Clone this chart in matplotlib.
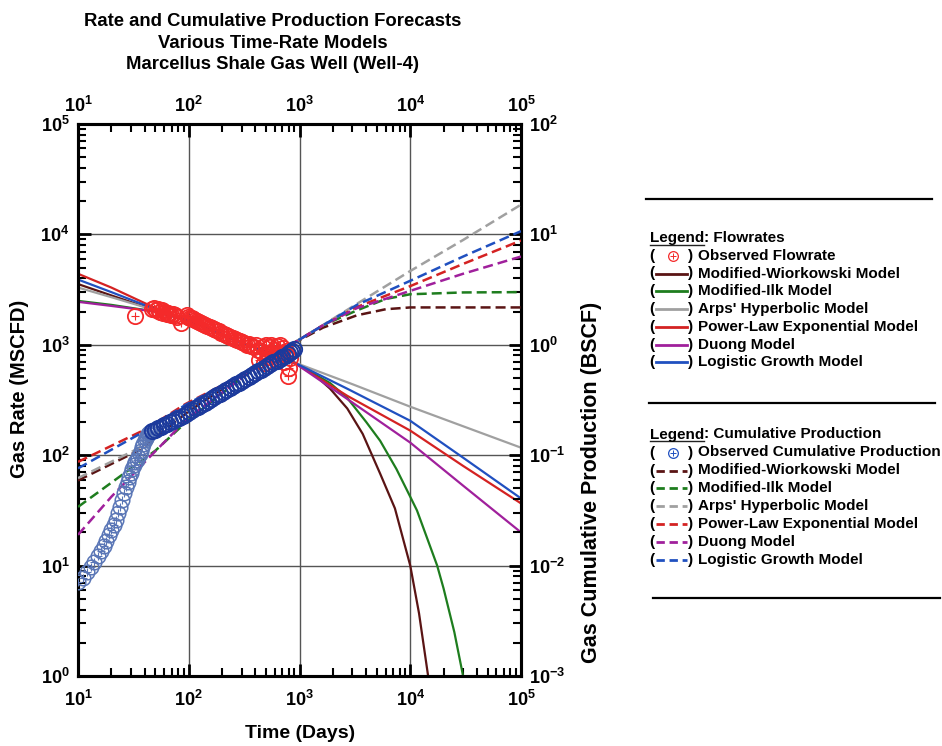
import numpy as np
import matplotlib
matplotlib.use("Agg")
import matplotlib.pyplot as plt
from matplotlib.lines import Line2D
from matplotlib.ticker import LogLocator, NullFormatter, FuncFormatter

plt.rcParams['font.family'] = ['Liberation Sans', 'DejaVu Sans']
plt.rcParams['font.weight'] = 'bold'
plt.rcParams['mathtext.fontset'] = 'custom'
plt.rcParams['mathtext.rm'] = 'Liberation Sans:bold'
plt.rcParams['mathtext.it'] = 'Liberation Sans:bold'
plt.rcParams['mathtext.bf'] = 'Liberation Sans:bold'

# observed gas rate, MSCFD
rate_t = [33, 47, 49, 51, 53, 55, 57, 59, 61, 63, 65, 67, 69, 72, 75, 78, 85,
          96, 99, 102, 106, 110, 114, 118, 123, 128, 134, 140, 147, 154, 162,
          170, 178, 187, 196, 206, 216, 227, 238, 250, 262, 275, 289, 303, 318,
          334, 350, 368, 386, 405, 420, 435, 450, 465, 480, 495, 510, 525, 540,
          555, 570, 590, 610, 630, 650, 670, 690, 710, 730, 750, 770, 780, 800, 820]
rate_q = [1820, 2100, 2150, 2050, 2100, 2000, 2050, 1950, 2000, 1900, 1950, 1900,
          1850, 1900, 1850, 1800, 1580,
          1850, 1800, 1760, 1750, 1700, 1680, 1650, 1600, 1580, 1550, 1500, 1480,
          1450, 1420, 1380, 1350, 1320, 1280, 1260, 1230, 1200, 1180, 1150, 1120,
          1100, 1080, 1050, 1040, 1000, 1020, 980, 960, 1000, 900, 730, 880, 950,
          690, 1000, 850, 780, 950, 1000, 820, 900, 750, 980, 850, 1000, 800, 930,
          700, 880, 800, 525, 620, 760]

# observed cumulative production, BSCF
cum_t = [10, 11, 12, 13, 14, 15, 16, 17, 18, 19, 20, 21, 22, 23, 24, 25, 26, 27,
         28, 29, 30, 31, 32, 33, 34, 35, 36, 37, 38, 39, 40, 41, 42, 43, 44, 45,
         47, 50, 53, 56, 60, 64, 68, 72, 77, 82, 88, 94, 100, 107, 114, 122, 130,
         139, 148, 158, 169, 180, 192, 205, 219, 234, 250, 267, 285, 304, 325, 347,
         370, 395, 422, 450, 480, 512, 546, 582, 620, 660, 700, 740, 780, 820, 860, 900]
cum_g = [0.0071, 0.0078, 0.0087, 0.0097, 0.0108, 0.0121, 0.0135, 0.0151, 0.0168,
         0.0188, 0.021, 0.0232, 0.026, 0.030, 0.034, 0.039, 0.045, 0.051, 0.057,
         0.063, 0.069, 0.075, 0.081, 0.086, 0.091, 0.096, 0.102, 0.109, 0.118,
         0.127, 0.136, 0.144, 0.150, 0.155, 0.159, 0.162,
         0.166, 0.170, 0.175, 0.180, 0.186, 0.192, 0.198, 0.204, 0.211, 0.218,
         0.226, 0.235, 0.245, 0.255, 0.265, 0.276, 0.287, 0.298, 0.310, 0.322,
         0.335, 0.348, 0.362, 0.376, 0.391, 0.406, 0.422, 0.438, 0.455, 0.473,
         0.492, 0.511, 0.531, 0.552, 0.574, 0.597, 0.620, 0.644, 0.668, 0.693,
         0.718, 0.744, 0.769, 0.793, 0.817, 0.860, 0.885, 0.910]
n_early = 36  # daily points before the data turn into a dense band

# rate forecasts (MSCFD)
mw_t = [10, 20, 50, 100, 300, 875, 1300, 1890, 2700, 3720, 5350, 7270, 10000, 12000, 14500, 16000]
mw_q = [3550, 2800, 2050, 1650, 1050, 700, 560, 400, 265, 156, 68, 33, 10, 3.7, 1.0, 0.4]
mi_t = [10, 20, 50, 100, 300, 875, 1890, 2700, 4000, 5350, 7500, 10000, 11500, 17500, 20000, 25000, 30000, 33000]
mi_q = [2500, 2300, 2000, 1650, 1050, 700, 450, 330, 200, 135, 75, 42, 31.6, 10, 6.2, 2.5, 1.0, 0.5]
arps_t = [10, 20, 50, 100, 300, 875, 3000, 10000, 100000]
arps_q = [3300, 2700, 2050, 1650, 1050, 700, 440, 275, 117]
ple_t = [10, 20, 50, 100, 300, 875, 2700, 10000, 30000, 100000]
ple_q = [4400, 3300, 2150, 1650, 1050, 700, 345, 167, 80, 36.6]
duong_t = [10, 20, 50, 100, 300, 875, 2700, 10000, 30000, 100000]
duong_q = [2450, 2250, 2000, 1650, 1050, 700, 323, 130, 53, 20]
lg_t = [10, 20, 50, 100, 300, 875, 2700, 10000, 30000, 100000]
lg_q = [3900, 3000, 2100, 1650, 1050, 700, 400, 205, 95, 40.6]

# cumulative forecasts (BSCF)
mw_gt = [10, 35, 100, 300, 820, 1630, 3300, 6000, 10000, 100000]
mw_g = [0.059, 0.11, 0.25, 0.52, 0.99, 1.43, 1.85, 2.1, 2.18, 2.18]
mi_gt = [10, 50, 100, 300, 820, 1630, 3300, 6000, 10000, 30000, 100000]
mi_g = [0.034, 0.11, 0.21, 0.50, 0.99, 1.5, 2.05, 2.6, 2.87, 2.98, 3.0]
arps_gt = [10, 35, 100, 300, 820, 1630, 3300, 10000, 30000, 100000]
arps_g = [0.062, 0.115, 0.27, 0.53, 0.99, 1.51, 2.35, 4.66, 8.9, 18.6]
ple_gt = [10, 40, 93, 300, 820, 1630, 3300, 10000, 30000, 100000]
ple_g = [0.087, 0.17, 0.29, 0.53, 0.99, 1.5, 2.2, 3.4, 5.4, 8.8]
duong_gt = [10, 20, 46, 100, 300, 820, 1630, 3300, 10000, 30000, 100000]
duong_g = [0.019, 0.042, 0.10, 0.22, 0.50, 0.99, 1.5, 2.15, 3.08, 4.4, 6.3]
lg_gt = [10, 40, 93, 300, 820, 1630, 3300, 10000, 30000, 100000]
lg_g = [0.076, 0.165, 0.285, 0.53, 0.99, 1.5, 2.3, 3.8, 6.3, 10.7]

C_MW = '#5a1414'
C_MI = '#1e7d1e'
C_ARPS = '#a0a0a0'
C_PLE = '#d42222'
C_DUONG = '#a0209c'
C_LG = '#2050c0'
C_OBS_Q = '#f42a2a'
C_OBS_G = '#1c3a9c'
C_OBS_G_EARLY = '#5a76b6'

W, H = 942, 746
fig = plt.figure(figsize=(W / 100, H / 100), dpi=100)


def fx(x):
    return x / W


def fy(y):
    return 1 - y / H


ax = fig.add_axes([fx(78), fy(676), fx(521) - fx(78), fy(124) - fy(676)])
ax2 = ax.twinx()

for a in (ax, ax2):
    a.set_xscale('log')
    a.set_yscale('log')
ax.set_xlim(10, 1e5)
ax.set_ylim(1, 1e5)
ax2.set_ylim(1e-3, 1e2)

sci = FuncFormatter(lambda v, p: r'$10^{%d}$' % int(round(np.log10(v))))
for a in (ax, ax2):
    a.xaxis.set_major_locator(LogLocator(base=10, numticks=10))
    a.xaxis.set_minor_locator(LogLocator(base=10, subs=np.arange(2, 10), numticks=10))
    a.yaxis.set_major_locator(LogLocator(base=10, numticks=10))
    a.yaxis.set_minor_locator(LogLocator(base=10, subs=np.arange(2, 10), numticks=10))
    a.xaxis.set_minor_formatter(NullFormatter())
    a.yaxis.set_minor_formatter(NullFormatter())
    a.tick_params(which='major', direction='in', length=9, width=2)
    a.tick_params(which='minor', direction='in', length=5.5, width=1.5)
    for s in a.spines.values():
        s.set_linewidth(2.2)

ax.xaxis.set_major_formatter(sci)
ax.yaxis.set_major_formatter(sci)
ax2.yaxis.set_major_formatter(sci)
# bottom/left ticks on the rate axes, top/right ticks on the cumulative axes
ax.tick_params(which='both', top=False, bottom=True, left=True, right=False,
               labeltop=False, labelbottom=True, labelsize=13, pad=6)
ax.tick_params(axis='x', which='major', pad=10)
ax2.xaxis.set_visible(True)
ax2.tick_params(which='both', right=True, left=False, top=True, bottom=False,
                labeltop=True, labelbottom=False, labelsize=13, pad=6)
ax.grid(True, which='major', color='#555555', linewidth=1)

# rate forecasts
for t, q, c in [(mw_t, mw_q, C_MW), (mi_t, mi_q, C_MI), (arps_t, arps_q, C_ARPS),
                (ple_t, ple_q, C_PLE), (duong_t, duong_q, C_DUONG), (lg_t, lg_q, C_LG)]:
    ax.plot(t, q, color=c, lw=1.6, zorder=3)

# observed rates
ax.plot(rate_t, rate_q, ls='none', marker='o', ms=11, mfc='none', mec=C_OBS_Q, mew=1.3, zorder=4)
ax.plot(rate_t, rate_q, ls='none', marker='+', ms=6, mec=C_OBS_Q, mew=0.8, zorder=4)

# cumulative forecasts
for t, g, c in [(mw_gt, mw_g, C_MW), (mi_gt, mi_g, C_MI), (arps_gt, arps_g, C_ARPS),
                (ple_gt, ple_g, C_PLE), (duong_gt, duong_g, C_DUONG), (lg_gt, lg_g, C_LG)]:
    ax2.plot(t, g, color=c, lw=1.8, dashes=(4, 2), zorder=3)

# observed cumulative
ax2.plot(cum_t[:n_early], cum_g[:n_early], ls='none', marker='o', ms=10.5, mfc='none',
         mec=C_OBS_G_EARLY, mew=1.1, zorder=4)
ax2.plot(cum_t[:n_early], cum_g[:n_early], ls='none', marker='+', ms=6,
         mec=C_OBS_G_EARLY, mew=0.8, zorder=4)
ax2.plot(cum_t[n_early:], cum_g[n_early:], ls='none', marker='o', ms=11, mfc='none',
         mec=C_OBS_G, mew=1.4, zorder=4)

# titles and axis labels
fig.text(fx(273), fy(43), 'Rate and Cumulative Production Forecasts\nVarious Time-Rate Models\n'
         'Marcellus Shale Gas Well (Well-4)', ha='center', va='center', fontsize=13.3,
         linespacing=1.33)
fig.text(fx(20), fy(389), 'Gas Rate (MSCFD)', rotation=90, ha='center', va='center', fontsize=14.5)
fig.text(fx(592), fy(482), 'Gas Cumulative Production (BSCF)', rotation=90,
         ha='center', va='center', fontsize=15.5)
fig.text(fx(300), fy(733), 'Time (Days)', ha='center', va='center', fontsize=14)

# legend panel
for y, x0, x1 in [(199, 646, 932), (403, 649, 935), (598, 653, 940)]:
    fig.add_artist(Line2D([fx(x0), fx(x1)], [fy(y), fy(y)], color='black', lw=1.6))

renderer = fig.canvas.get_renderer()


def legend_title(y, rest):
    t = fig.text(fx(650), fy(y), 'Legend', fontsize=11, va='center', ha='left')
    bb = t.get_window_extent(renderer)
    fig.text(bb.x1 / W, fy(y), rest, fontsize=11, va='center', ha='left')
    fig.add_artist(Line2D([bb.x0 / W, bb.x1 / W], [bb.y0 / H + 0.0005] * 2,
                          color='#222222', lw=1.0))


def legend_row(y, label, color=None, dashed=False, marker_color=None):
    fig.text(fx(649), fy(y), '(', fontsize=11, va='center', ha='left')
    fig.text(fx(688), fy(y), ')', fontsize=11, va='center', ha='left')
    if marker_color is not None:
        fig.add_artist(Line2D([fx(673)], [fy(y)], ls='none', marker='o', ms=7, mfc='none',
                              mec=marker_color, mew=0.9))
        fig.add_artist(Line2D([fx(673)], [fy(y)], ls='none', marker='+', ms=4,
                              mec=marker_color, mew=0.7))
    elif dashed:
        fig.add_artist(Line2D([fx(656), fx(687)], [fy(y), fy(y)], color=color, lw=2,
                              dashes=(3, 1.7)))
    else:
        fig.add_artist(Line2D([fx(656), fx(687)], [fy(y), fy(y)], color=color, lw=2))
    fig.text(fx(698), fy(y), label, fontsize=11, va='center', ha='left')


model_names = ['Modified-Wiorkowski Model', 'Modified-Ilk Model', "Arps' Hyperbolic Model",
               'Power-Law Exponential Model', 'Duong Model', 'Logistic Growth Model']
model_colors = [C_MW, C_MI, C_ARPS, C_PLE, C_DUONG, C_LG]

legend_title(238, ': Flowrates')
legend_row(256, 'Observed Flowrate', marker_color=C_OBS_Q)
for i, (name, c) in enumerate(zip(model_names, model_colors)):
    legend_row(273.5 + i * 17.8, name, color=c)

legend_title(434.5, ': Cumulative Production')
legend_row(452.5, 'Observed Cumulative Production', marker_color=C_LG)
for i, (name, c) in enumerate(zip(model_names, model_colors)):
    legend_row(470.5 + i * 17.9, name, color=c, dashed=True)

fig.savefig('out.png', dpi=100)
